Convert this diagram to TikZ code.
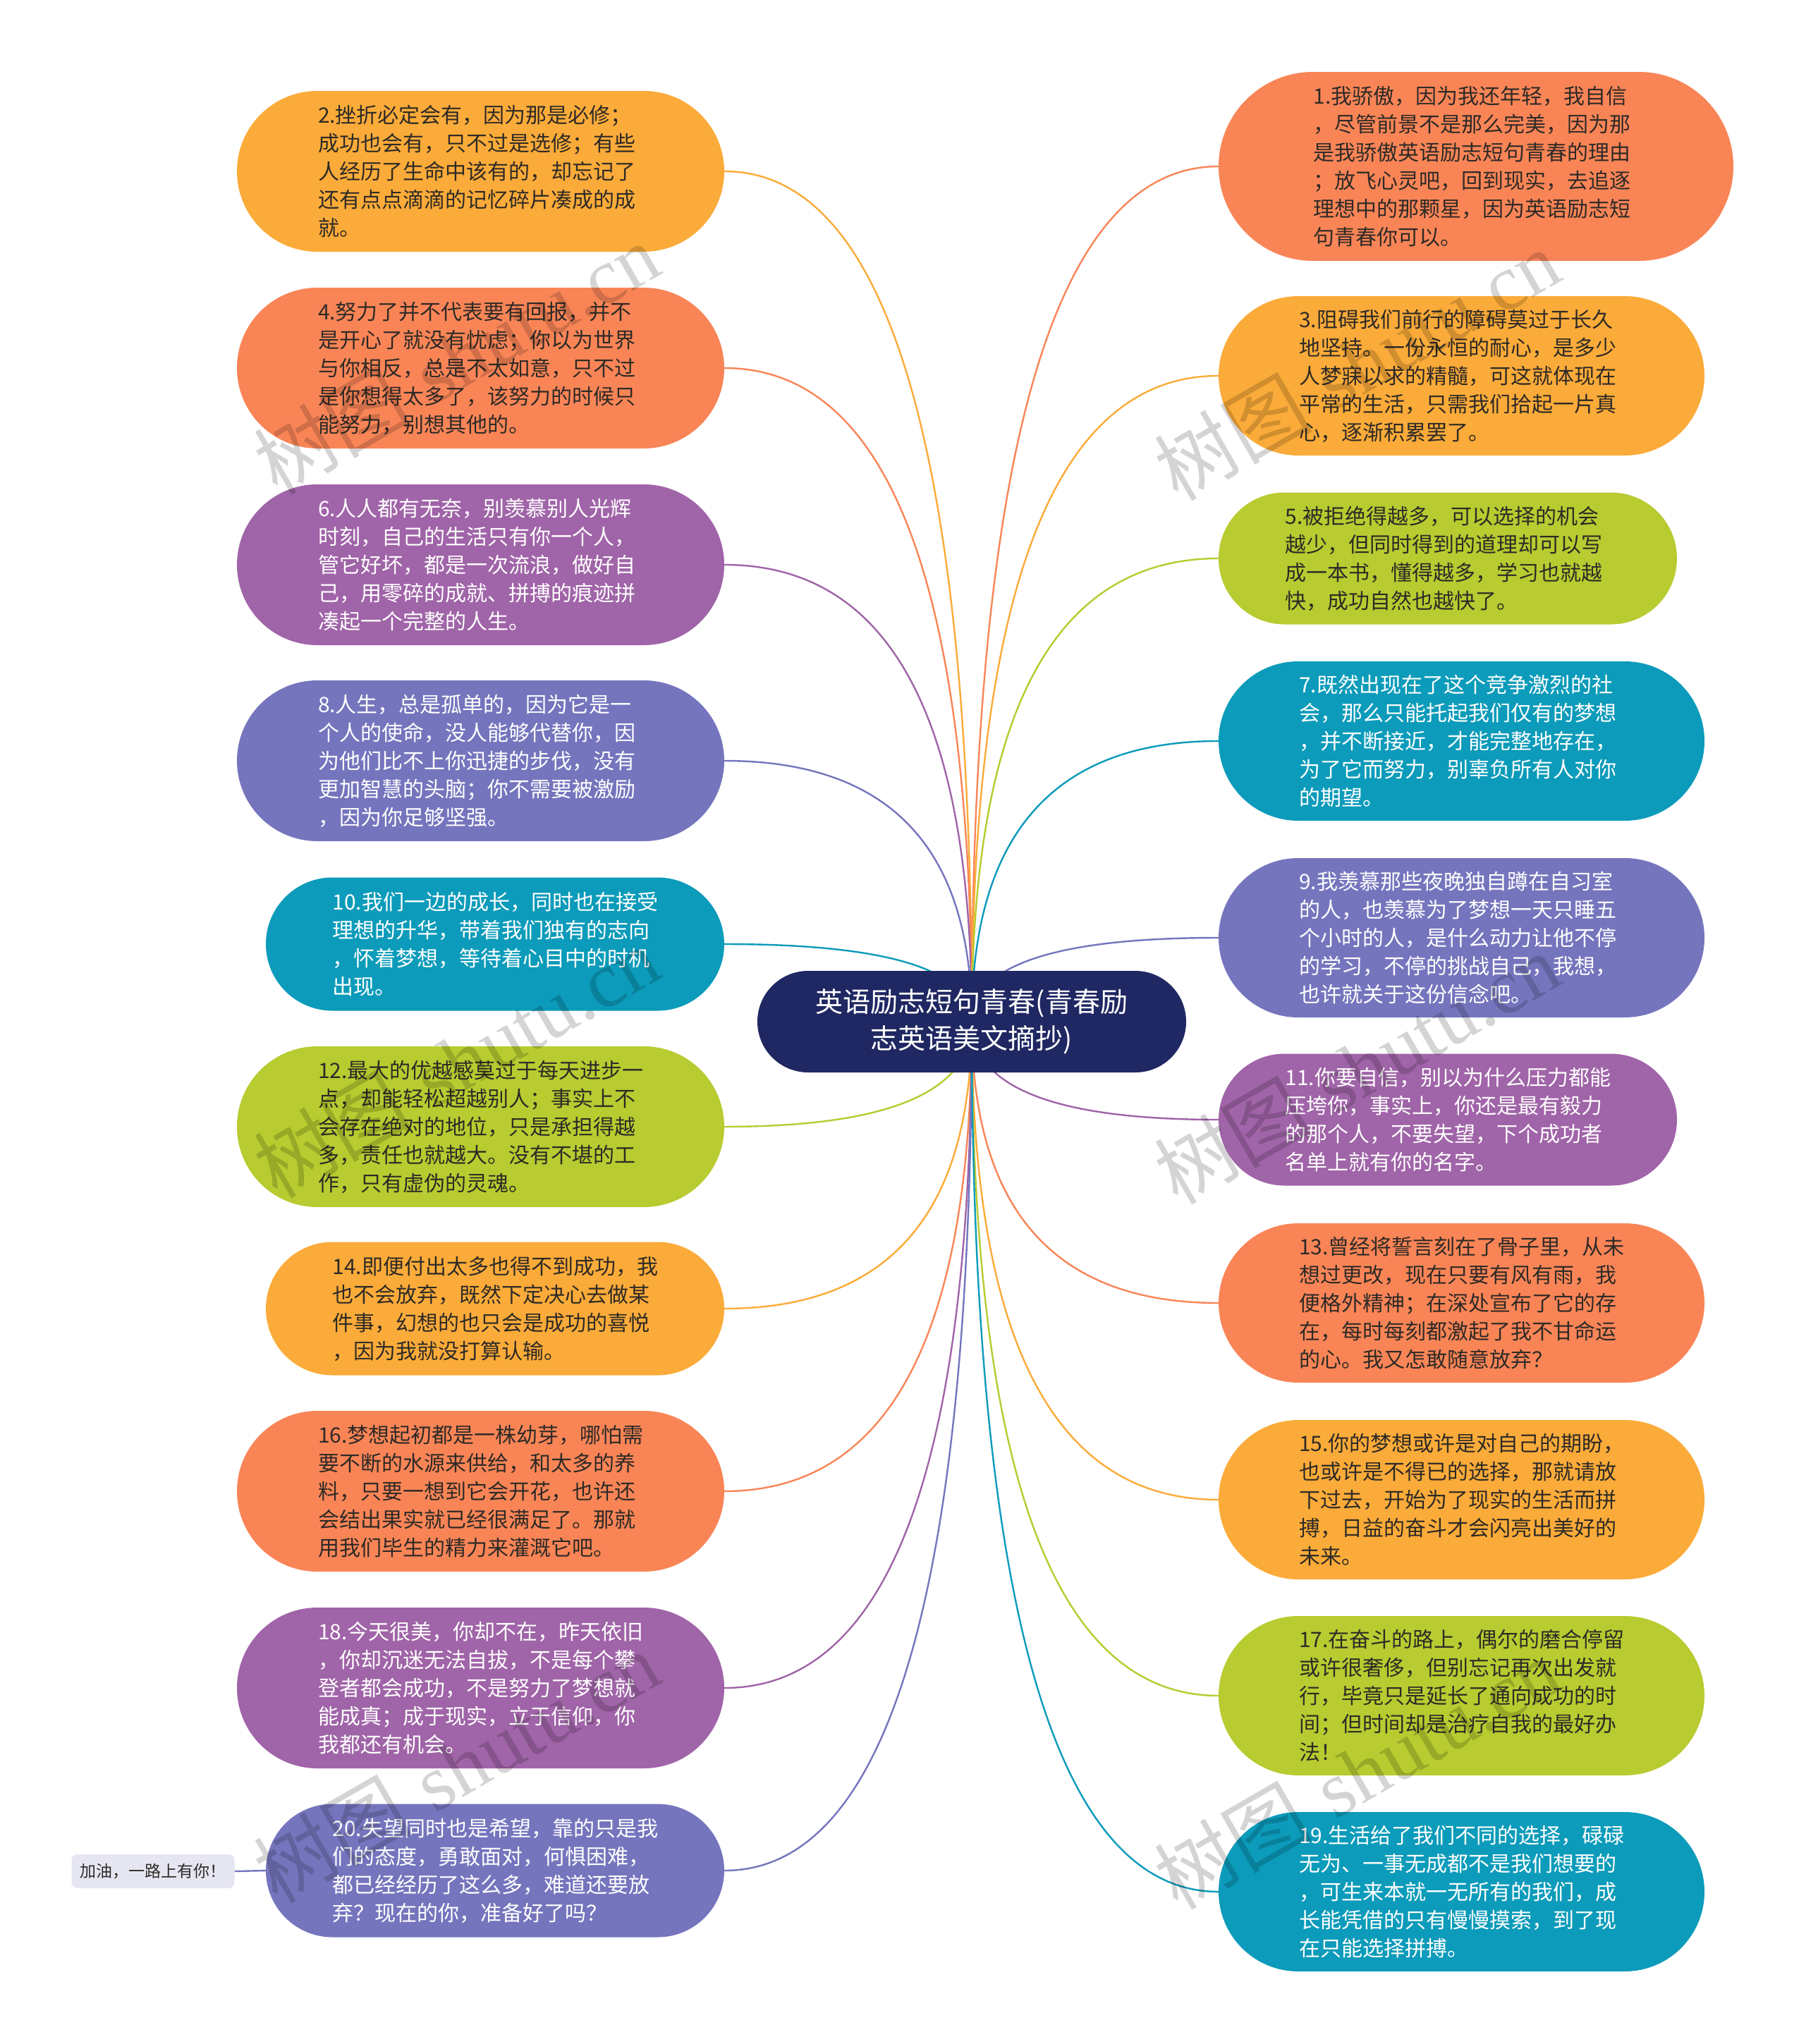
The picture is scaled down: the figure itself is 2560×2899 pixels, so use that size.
\documentclass[tikz,border=0pt]{standalone}
\usepackage{fontspec}
\newfontfamily\cjk{Noto Sans CJK SC}
\newfontfamily\wmserif{Liberation Serif}
\usetikzlibrary{shapes.misc,calc}
\pgfdeclarelayer{bg}
\pgfdeclarelayer{fg}
\pgfsetlayers{bg,main,fg}
\definecolor{cY}{HTML}{FBAB39}
\definecolor{cO}{HTML}{F98557}
\definecolor{cP}{HTML}{A064A8}
\definecolor{cB}{HTML}{7575BE}
\definecolor{cT}{HTML}{0C9BBA}
\definecolor{cG}{HTML}{B8CB30}
\definecolor{cN}{HTML}{1F2862}
\definecolor{cS}{HTML}{E6E6F3}
\definecolor{txd}{HTML}{2E2A26}
\newcommand\linkto[2]{\draw[link,#2] (C.center) .. controls ($(C.center)!0.6667!(C.center |- #1)$) and ($(#1)!0.6667!(C.center |- #1)$) .. (#1);}
\begin{document}
\begin{tikzpicture}[x=1pt,y=-1pt,
  pill/.style={rounded rectangle, inner sep=0pt, text width=461pt, align=left, font=\cjk\fontsize{30}{40}\selectfont},
  dk/.style={text=txd}, wt/.style={text=white},
  lw/.style={minimum width=691, minimum height=228},
  ln/.style={minimum width=650, minimum height=189},
  rt/.style={minimum width=730, minimum height=268},
  rw/.style={minimum width=689, minimum height=226},
  rn/.style={minimum width=650, minimum height=187},
  link/.style={line width=2.4pt},
  wm/.style={rotate=30, text=black, text opacity=0.17, font=\fontsize{112}{112}\selectfont}]
\useasboundingbox (0,0) rectangle (2560,2899);

% central node
\node[rounded rectangle, fill=cN, minimum width=608, minimum height=144, inner sep=0pt, text=white, align=center, font=\cjk\fontsize{39}{52}\selectfont] (C) at (1378,1449) {英语励志短句青春(青春励\\志英语美文摘抄)};

% left nodes
\node[pill, lw, fill=cY, dk] (L2) at (681.5,243) {2.挫折必定会有，因为那是必修；\\成功也会有，只不过是选修；有些\\人经历了生命中该有的，却忘记了\\还有点点滴滴的记忆碎片凑成的成\\就。};
\node[pill, lw, fill=cO, dk] (L4) at (681.5,522) {4.努力了并不代表要有回报，并不\\是开心了就没有忧虑；你以为世界\\与你相反，总是不太如意，只不过\\是你想得太多了，该努力的时候只\\能努力，别想其他的。};
\node[pill, lw, fill=cP, wt] (L6) at (681.5,801) {6.人人都有无奈，别羡慕别人光辉\\时刻，自己的生活只有你一个人，\\管它好坏，都是一次流浪，做好自\\己，用零碎的成就、拼搏的痕迹拼\\凑起一个完整的人生。};
\node[pill, lw, fill=cB, wt] (L8) at (681.5,1079) {8.人生，总是孤单的，因为它是一\\个人的使命，没人能够代替你，因\\为他们比不上你迅捷的步伐，没有\\更加智慧的头脑；你不需要被激励\\，因为你足够坚强。};
\node[pill, ln, fill=cT, wt] (L10) at (702,1339) {10.我们一边的成长，同时也在接受\\理想的升华，带着我们独有的志向\\，怀着梦想，等待着心目中的时机\\出现。};
\node[pill, lw, fill=cG, dk] (L12) at (681.5,1598) {12.最大的优越感莫过于每天进步一\\点，却能轻松超越别人；事实上不\\会存在绝对的地位，只是承担得越\\多，责任也就越大。没有不堪的工\\作，只有虚伪的灵魂。};
\node[pill, ln, fill=cY, dk] (L14) at (702,1856) {14.即便付出太多也得不到成功，我\\也不会放弃，既然下定决心去做某\\件事，幻想的也只会是成功的喜悦\\，因为我就没打算认输。};
\node[pill, lw, fill=cO, dk] (L16) at (681.5,2115) {16.梦想起初都是一株幼芽，哪怕需\\要不断的水源来供给，和太多的养\\料，只要一想到它会开花，也许还\\会结出果实就已经很满足了。那就\\用我们毕生的精力来灌溉它吧。};
\node[pill, lw, fill=cP, wt] (L18) at (681.5,2394) {18.今天很美，你却不在，昨天依旧\\，你却沉迷无法自拔，不是每个攀\\登者都会成功，不是努力了梦想就\\能成真；成于现实，立于信仰，你\\我都还有机会。};
\node[pill, ln, fill=cB, wt] (L20) at (702,2653) {20.失望同时也是希望，靠的只是我\\们的态度，勇敢面对，何惧困难，\\都已经经历了这么多，难道还要放\\弃？现在的你，准备好了吗？};

% right nodes
\node[pill, rt, fill=cO, dk] (R1) at (2093,236) {1.我骄傲，因为我还年轻，我自信\\，尽管前景不是那么完美，因为那\\是我骄傲英语励志短句青春的理由\\；放飞心灵吧，回到现实，去追逐\\理想中的那颗星，因为英语励志短\\句青春你可以。};
\node[pill, rw, fill=cY, dk] (R3) at (2072.5,533) {3.阻碍我们前行的障碍莫过于长久\\地坚持。一份永恒的耐心，是多少\\人梦寐以求的精髓，可这就体现在\\平常的生活，只需我们拾起一片真\\心，逐渐积累罢了。};
\node[pill, rn, fill=cG, dk] (R5) at (2053,792) {5.被拒绝得越多，可以选择的机会\\越少，但同时得到的道理却可以写\\成一本书，懂得越多，学习也就越\\快，成功自然也越快了。};
\node[pill, rw, fill=cT, wt] (R7) at (2072.5,1051) {7.既然出现在了这个竞争激烈的社\\会，那么只能托起我们仅有的梦想\\，并不断接近，才能完整地存在，\\为了它而努力，别辜负所有人对你\\的期望。};
\node[pill, rw, fill=cB, wt] (R9) at (2072.5,1330) {9.我羡慕那些夜晚独自蹲在自习室\\的人，也羡慕为了梦想一天只睡五\\个小时的人，是什么动力让他不停\\的学习，不停的挑战自己，我想，\\也许就关于这份信念吧。};
\node[pill, rn, fill=cP, wt] (R11) at (2053,1588) {11.你要自信，别以为什么压力都能\\压垮你，事实上，你还是最有毅力\\的那个人，不要失望，下个成功者\\名单上就有你的名字。};
\node[pill, rw, fill=cO, dk] (R13) at (2072.5,1848) {13.曾经将誓言刻在了骨子里，从未\\想过更改，现在只要有风有雨，我\\便格外精神；在深处宣布了它的存\\在，每时每刻都激起了我不甘命运\\的心。我又怎敢随意放弃？};
\node[pill, rw, fill=cY, dk] (R15) at (2072.5,2127) {15.你的梦想或许是对自己的期盼，\\也或许是不得已的选择，那就请放\\下过去，开始为了现实的生活而拼\\搏，日益的奋斗才会闪亮出美好的\\未来。};
\node[pill, rw, fill=cG, dk] (R17) at (2072.5,2405) {17.在奋斗的路上，偶尔的磨合停留\\或许很奢侈，但别忘记再次出发就\\行，毕竟只是延长了通向成功的时\\间；但时间却是治疗自我的最好办\\法！};
\node[pill, rw, fill=cT, wt] (R19) at (2072.5,2683) {19.生活给了我们不同的选择，碌碌\\无为、一事无成都不是我们想要的\\，可生来本就一无所有的我们，成\\长能凭借的只有慢慢摸索，到了现\\在只能选择拼搏。};

% small node
\node[rectangle, rounded corners=8pt, fill=cS, minimum width=231, minimum height=48, inner sep=0pt, text=txd, font=\cjk\fontsize{23}{28}\selectfont] (S) at (217,2654) {加油，一路上有你！};

\begin{pgfonlayer}{bg}
\fill[white] (0,0) rectangle (2560,2899);
\linkto{L2.east}{cY}
\linkto{L4.east}{cO}
\linkto{L6.east}{cP}
\linkto{L8.east}{cB}
\linkto{L10.east}{cT}
\linkto{L12.east}{cG}
\linkto{L14.east}{cY}
\linkto{L16.east}{cO}
\linkto{L18.east}{cP}
\linkto{L20.east}{cB}
\linkto{R1.west}{cO}
\linkto{R3.west}{cY}
\linkto{R5.west}{cG}
\linkto{R7.west}{cT}
\linkto{R9.west}{cB}
\linkto{R11.west}{cP}
\linkto{R13.west}{cO}
\linkto{R15.west}{cY}
\linkto{R17.west}{cG}
\linkto{R19.west}{cT}
\draw[link,cB] (S.east) -- (L20.west);
\end{pgfonlayer}

% watermarks
\begin{pgfonlayer}{fg}
\node[wm] (w1) at (647,508) {{\cjk 树图} {\wmserif shutu.cn}};
\node[wm] (w2) at (1924,517) {{\cjk 树图} {\wmserif shutu.cn}};
\node[wm] (w3) at (647,1506) {{\cjk 树图} {\wmserif shutu.cn}};
\node[wm] (w4) at (1924,1515) {{\cjk 树图} {\wmserif shutu.cn}};
\node[wm] (w5) at (647,2506) {{\cjk 树图} {\wmserif shutu.cn}};
\node[wm] (w6) at (1924,2515) {{\cjk 树图} {\wmserif shutu.cn}};
\end{pgfonlayer}
\end{tikzpicture}
\end{document}
